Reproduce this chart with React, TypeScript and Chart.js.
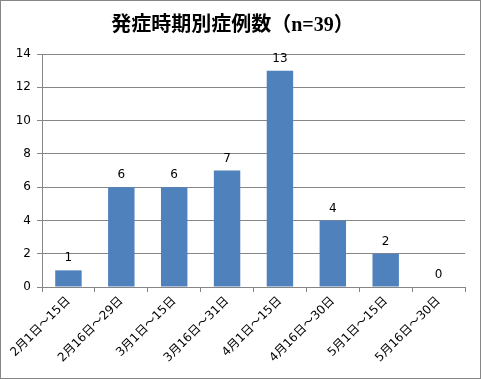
import React, { useEffect, useRef } from "react";
import { Chart, registerables } from "chart.js";

Chart.register(...registerables);

const titleText = "発症時期別症例数（n=39）";
const categories = [
  "2月1日～15日",
  "2月16日～29日",
  "3月1日～15日",
  "3月16日～31日",
  "4月1日～15日",
  "4月16日～30日",
  "5月1日～15日",
  "5月16日～30日",
];
const cases = [1, 6, 6, 7, 13, 4, 2, 0];
const yMax = 14;
const yStep = 2;

const tickFont = "'DejaVu Sans', 'Noto Sans CJK JP', sans-serif";

const frameAndLabels = {
  id: "frameAndLabels",
  beforeDraw(chart: any) {
    const { ctx, width, height } = chart;
    ctx.save();
    ctx.fillStyle = "#ffffff";
    ctx.fillRect(0, 0, width, height);
    ctx.strokeStyle = "#868686";
    ctx.lineWidth = 1;
    ctx.strokeRect(0.5, 0.5, width - 1, height - 1);
    ctx.restore();
  },
  afterDatasetsDraw(chart: any) {
    const { ctx } = chart;
    const meta = chart.getDatasetMeta(0);
    const data = chart.data.datasets[0].data;
    ctx.save();
    ctx.fillStyle = "#000000";
    ctx.font = "12px " + tickFont;
    ctx.textAlign = "center";
    ctx.textBaseline = "bottom";
    meta.data.forEach((bar: any, i: number) => {
      ctx.fillText(String(data[i]), bar.x, bar.y - 6);
    });
    ctx.restore();
  },
};

export default function App() {
  const ref = useRef<HTMLCanvasElement>(null);
  useEffect(() => {
    if (!ref.current) return;
    const chart = new Chart(ref.current, {
      type: "bar",
      data: {
        labels: categories,
        datasets: [
          {
            data: cases,
            backgroundColor: "#4F81BD",
            borderWidth: 0,
            barPercentage: 0.5,
            categoryPercentage: 1,
          },
        ],
      },
      options: {
        responsive: false,
        animation: false,
        layout: { padding: { left: 0, right: 16, top: 0, bottom: 0 } },
        plugins: {
          legend: { display: false },
          tooltip: { enabled: false },
          title: {
            display: true,
            text: titleText,
            color: "#000000",
            font: { family: "'Liberation Serif', 'Noto Sans CJK JP', serif", size: 20, weight: "bold", lineHeight: 1.2 },
            padding: { top: 14, bottom: 16 },
          },
        },
        scales: {
          x: {
            grid: {
              display: true,
              drawOnChartArea: false,
              drawTicks: true,
              tickLength: 5,
              color: "#868686",
              offset: true,
            },
            border: { display: true, color: "#868686" },
            ticks: {
              color: "#000000",
              font: { family: tickFont, size: 12 },
              minRotation: 45,
              maxRotation: 45,
              autoSkip: false,
              padding: 2,
            },
            afterFit(scale: any) {
              scale.height = 92;
            },
          },
          y: {
            min: 0,
            max: yMax,
            ticks: {
              stepSize: yStep,
              color: "#000000",
              font: { family: tickFont, size: 12 },
              padding: 6,
            },
            grid: {
              color: "#868686",
              tickLength: 5,
            },
            border: { display: true, color: "#868686" },
            afterFit(scale: any) {
              scale.width = 42;
            },
          },
        },
      },
      plugins: [frameAndLabels],
    });
    return () => chart.destroy();
  }, []);
  return (
    <div style={{ position: "absolute", left: 0, top: 0, width: 481, height: 379 }}>
      <canvas ref={ref} width={481} height={379} style={{ display: "block" }} />
    </div>
  );
}
